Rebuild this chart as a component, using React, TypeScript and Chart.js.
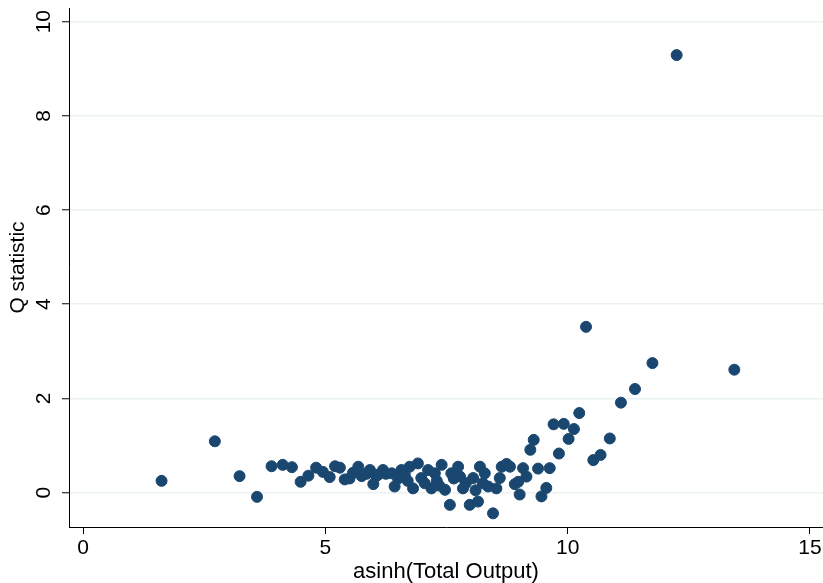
import React, { useEffect, useRef } from "react";
import { Chart, registerables } from "chart.js";

Chart.register(...registerables);

// asinh(Total Output)
const xValues = [
  1.62, 2.72, 3.23, 3.59, 3.89, 4.12, 4.31, 4.49, 4.65, 4.81,
  4.95, 5.09, 5.20, 5.30, 5.40, 5.50, 5.57, 5.68, 5.75, 5.85,
  5.92, 5.99, 6.05, 6.09, 6.19, 6.25, 6.37, 6.43, 6.50, 6.57,
  6.64, 6.70, 6.74, 6.81, 6.91, 6.98, 7.05, 7.12, 7.19, 7.26,
  7.30, 7.35, 7.40, 7.47, 7.57, 7.60, 7.65, 7.74, 7.78, 7.84,
  7.90, 7.98, 8.05, 8.10, 8.15, 8.19, 8.25, 8.29, 8.36, 8.46,
  8.53, 8.60, 8.64, 8.74, 8.81, 8.91, 8.98, 9.01, 9.08, 9.15,
  9.23, 9.30, 9.39, 9.46, 9.56, 9.63, 9.71, 9.82, 9.92, 10.02,
  10.13, 10.24, 10.38, 10.53, 10.68, 10.87, 11.10, 11.39, 11.75, 12.25,
  13.44,
];

// Q statistic
const yValues = [
  0.25, 1.09, 0.35, -0.09, 0.56, 0.59, 0.54, 0.23, 0.36, 0.53,
  0.44, 0.33, 0.56, 0.53, 0.28, 0.30, 0.42, 0.55, 0.35, 0.40,
  0.48, 0.18, 0.35, 0.38, 0.48, 0.40, 0.41, 0.13, 0.30, 0.48,
  0.38, 0.25, 0.55, 0.09, 0.62, 0.31, 0.20, 0.48, 0.09, 0.41,
  0.25, 0.15, 0.59, 0.06, -0.26, 0.41, 0.30, 0.55, 0.34, 0.09,
  0.20, -0.26, 0.31, 0.05, -0.19, 0.55, 0.20, 0.41, 0.13, -0.44,
  0.09, 0.31, 0.55, 0.61, 0.55, 0.18, 0.23, -0.04, 0.52, 0.34,
  0.91, 1.12, 0.51, -0.08, 0.10, 0.52, 1.45, 0.83, 1.46, 1.14,
  1.35, 1.69, 3.52, 0.69, 0.80, 1.15, 1.91, 2.20, 2.75, 9.29,
  2.61,
];

const xTicks = [0, 5, 10, 15];
const yTicks = [0, 2, 4, 6, 8, 10];
const xTitle = "asinh(Total Output)";
const yTitle = "Q statistic";

const FONT = '"Liberation Sans", Arial, Helvetica, sans-serif';
const MARKER = "#1a476f";

export default function App() {
  const ref = useRef<HTMLCanvasElement>(null);

  useEffect(() => {
    if (!ref.current) return;

    const yLabelPlugin = {
      id: "yRotatedLabels",
      afterDraw(chart: any) {
        const ctx = chart.ctx;
        const ys = chart.scales.y;
        const baseX = chart.chartArea.left - 19;
        ctx.save();
        ctx.font = `21px ${FONT}`;
        ctx.fillStyle = "#000";
        ctx.textAlign = "center";
        ctx.textBaseline = "alphabetic";
        yTicks.forEach((v) => {
          const py = ys.getPixelForValue(v);
          ctx.save();
          ctx.translate(baseX, py);
          ctx.rotate(-Math.PI / 2);
          ctx.fillText(String(v), 0, 0);
          ctx.restore();
        });
        ctx.restore();
      },
    };

    const chart = new Chart(ref.current, {
      type: "scatter",
      data: {
        datasets: [
          {
            data: xValues.map((x, i) => ({ x, y: yValues[i] })),
            backgroundColor: MARKER,
            borderColor: MARKER,
            borderWidth: 1,
            pointRadius: 5.5,
            pointHoverRadius: 5.5,
          },
        ],
      },
      options: {
        responsive: false,
        animation: false,
        devicePixelRatio: 1,
        layout: { autoPadding: false, padding: { top: 8, right: 0, left: 0, bottom: 0 } },
        plugins: {
          legend: { display: false },
          tooltip: { enabled: false },
        },
        scales: {
          x: {
            type: "linear",
            position: "bottom",
            min: -0.29,
            max: 15.27,
            afterBuildTicks: (scale: any) => {
              scale.ticks = xTicks.map((v) => ({ value: v }));
            },
            afterFit: (scale: any) => {
              scale.height = 56;
              scale.paddingLeft = 0;
              scale.paddingRight = 0;
            },
            ticks: {
              color: "#000",
              font: { family: FONT, size: 21 },
              padding: 2,
              maxRotation: 0,
              autoSkip: false,
            },
            grid: {
              drawOnChartArea: false,
              drawTicks: true,
              tickLength: 7,
              tickColor: "#000",
              tickWidth: 1,
            },
            border: { display: true, color: "#000", width: 1 },
            title: {
              display: true,
              text: xTitle,
              color: "#000",
              font: { family: FONT, size: 22, lineHeight: 1 },
              padding: { top: 0, bottom: 0 },
            },
          },
          y: {
            type: "linear",
            position: "left",
            min: -0.73,
            max: 10.29,
            afterBuildTicks: (scale: any) => {
              scale.ticks = yTicks.map((v) => ({ value: v }));
            },
            afterFit: (scale: any) => {
              scale.width = 69;
              scale.paddingTop = 0;
              scale.paddingBottom = 0;
            },
            ticks: { display: false },
            grid: {
              drawOnChartArea: true,
              drawTicks: true,
              tickLength: 7,
              color: "#eaf2f3",
              lineWidth: 1.5,
              tickColor: "#000",
              tickWidth: 1,
            },
            border: { display: true, color: "#000", width: 1 },
            title: {
              display: true,
              text: yTitle,
              color: "#000",
              font: { family: FONT, size: 21, lineHeight: 1 },
              padding: { top: 7.5, bottom: 0 },
            },
          },
        },
      },
      plugins: [yLabelPlugin],
    });

    return () => chart.destroy();
  }, []);

  return (
    <div style={{ position: "absolute", left: 0, top: 0, width: 823, height: 583, background: "#fff" }}>
      <canvas ref={ref} width={823} height={583} style={{ display: "block" }} />
    </div>
  );
}
